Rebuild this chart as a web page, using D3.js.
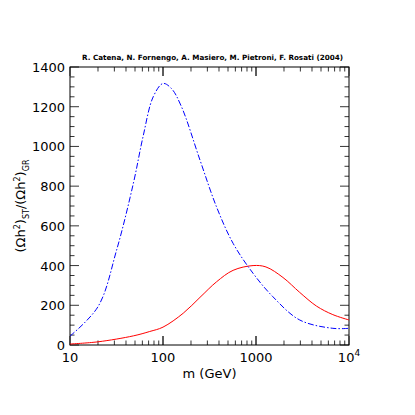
<!DOCTYPE html>
<html>
<head>
<meta charset="UTF-8">
<script src="https://d3js.org/d3.v7.min.js"></script>
<style>body{margin:0;background:#fff}text{font-family:"DejaVu Sans",sans-serif;fill:#000}</style>
</head>
<body>
<svg id="chart" width="415" height="415"></svg>
<script>
// blue dash-dot curve
const blueM = [10, 20, 31.7, 48, 61, 78.5, 100, 123, 158, 250, 376, 567, 930, 1520, 2950, 6700, 10000];
const blueV = [45, 193, 478, 814, 1049, 1250, 1317, 1292, 1200, 931, 696, 512, 361, 243, 126, 84, 84];
// red solid curve
const redM = [10, 20, 48, 72, 100, 165, 250, 376, 567, 930, 1280, 1950, 2950, 4470, 6700, 10000];
const redV = [5, 16, 46, 68, 90, 160, 240, 318, 376, 400, 393, 340, 265, 196, 153, 126];
const yTicks = [0, 200, 400, 600, 800, 1000, 1200, 1400];
const xTicks = [10, 100, 1000, 10000];

const svg = d3.select("#chart");
const L = 70, R = 349, T = 67, B = 345;
const x = d3.scaleLog().domain([10, 10000]).range([L, R]);
const y = d3.scaleLinear().domain([0, 1400]).range([B, T]);

svg.append("rect").attr("x", L).attr("y", T).attr("width", R - L).attr("height", B - T)
    .attr("fill", "none").attr("stroke", "#000").attr("stroke-width", 1);

// ticks, inside on all sides
const tk = svg.append("g").attr("stroke", "#000").attr("stroke-width", 0.8);
d3.range(0, 1401, 50).forEach(v => {
    const len = v % 200 === 0 ? 9 : 4.5;
    tk.append("line").attr("x1", L).attr("x2", L + len).attr("y1", y(v)).attr("y2", y(v));
    tk.append("line").attr("x1", R).attr("x2", R - len).attr("y1", y(v)).attr("y2", y(v));
});
[10, 100, 1000].forEach(d => {
    for (let k = 1; k <= 10; k++) {
        const v = d * k, len = (k === 1 || k === 10) ? 9 : 4.5;
        tk.append("line").attr("x1", x(v)).attr("x2", x(v)).attr("y1", B).attr("y2", B - len);
        tk.append("line").attr("x1", x(v)).attr("x2", x(v)).attr("y1", T).attr("y2", T + len);
    }
});

svg.selectAll(".yl").data(yTicks).join("text")
    .attr("x", L - 5).attr("y", d => y(d) + 5).attr("text-anchor", "end")
    .attr("font-size", 13).text(d => d);
const xl = svg.selectAll(".xl").data(xTicks).join("text")
    .attr("x", d => x(d)).attr("y", B + 17).attr("text-anchor", "middle").attr("font-size", 13);
xl.each(function(d) {
    const t = d3.select(this);
    if (d === 10000) { t.text("10"); t.append("tspan").attr("dy", -6).attr("font-size", 9).text("4"); }
    else t.text(d);
});

svg.append("text").attr("x", (L + R) / 2).attr("y", 378).attr("text-anchor", "middle")
    .attr("font-size", 13).attr("font-family", "DejaVu Sans Mono").text("m (GeV)");
svg.append("text").attr("x", (L + R) / 2 + 3).attr("y", 60).attr("text-anchor", "middle")
    .attr("font-size", 7.2).attr("font-weight", "bold")
    .text("R. Catena, N. Fornengo, A. Masiero, M. Pietroni, F. Rosati (2004)");

const yt = svg.append("text").attr("transform", "translate(25,206) rotate(-90)")
    .attr("text-anchor", "middle").attr("font-size", 13);
yt.append("tspan").text("(Ωh");
yt.append("tspan").attr("dy", -5).attr("font-size", 8).text("2");
yt.append("tspan").attr("dy", 5).text(")");
yt.append("tspan").attr("dy", 4).attr("font-size", 8).text("ST");
yt.append("tspan").attr("dy", -4).text("/(Ωh");
yt.append("tspan").attr("dy", -5).attr("font-size", 8).text("2");
yt.append("tspan").attr("dy", 5).text(")");
yt.append("tspan").attr("dy", 4).attr("font-size", 8).text("GR");

const line = d3.line().x(d => x(d[0])).y(d => y(d[1])).curve(d3.curveCatmullRom.alpha(0.5));
svg.append("path").attr("d", line(d3.zip(redM, redV)))
    .attr("fill", "none").attr("stroke", "#ff0000").attr("stroke-width", 1);
svg.append("path").attr("d", line(d3.zip(blueM, blueV)))
    .attr("fill", "none").attr("stroke", "#0000ff").attr("stroke-width", 1)
    .attr("stroke-dasharray", "6,2,1.5,2");
</script>
</body>
</html>
